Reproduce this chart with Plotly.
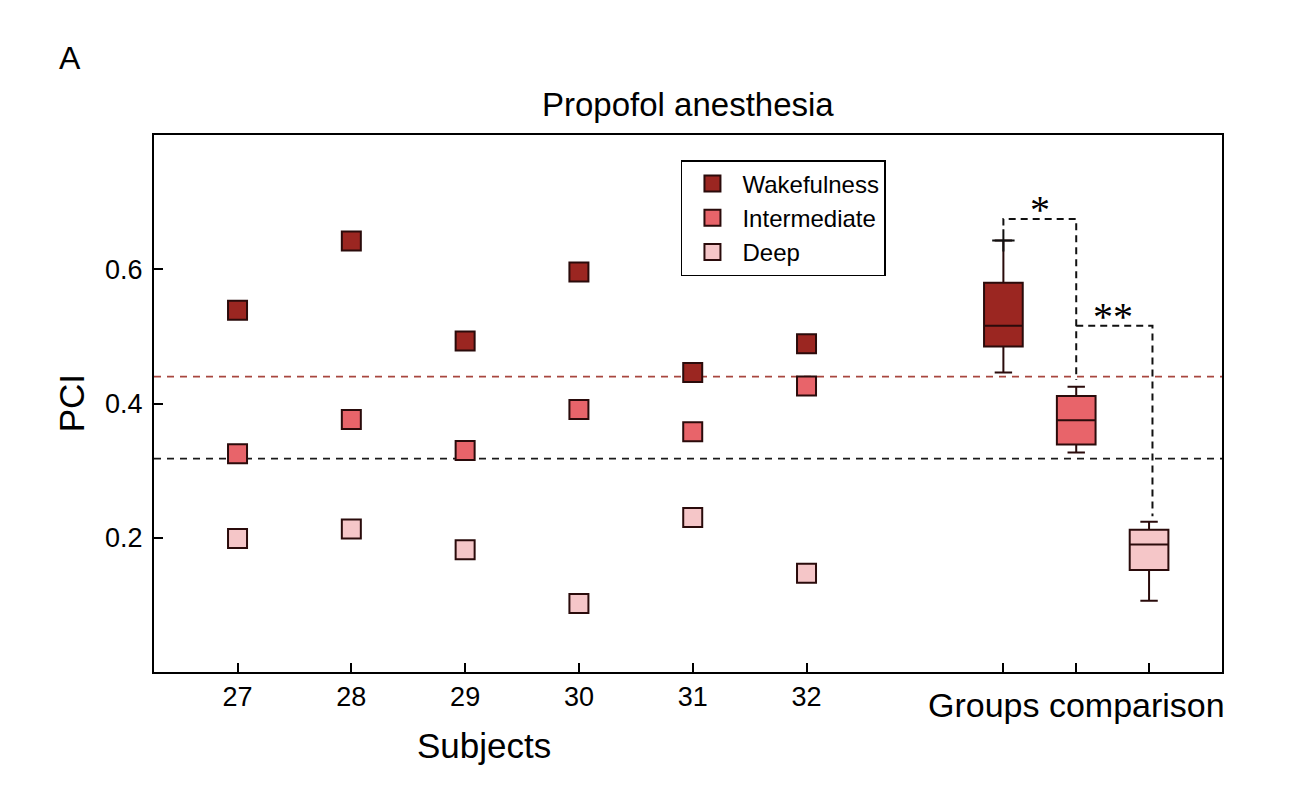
import plotly.graph_objects as go

# ---------------- data ----------------
subjects = ["27", "28", "29", "30", "31", "32"]
wakefulness = [0.539, 0.642, 0.493, 0.596, 0.446, 0.489]
intermediate = [0.325, 0.376, 0.330, 0.391, 0.358, 0.426]
deep = [0.199, 0.213, 0.182, 0.102, 0.230, 0.147]

group_names = ["Wakefulness", "Intermediate", "Deep"]
box_lower = [0.446, 0.327, 0.106]
box_q1 = [0.485, 0.339, 0.152]
box_median = [0.516, 0.375, 0.190]
box_q3 = [0.580, 0.411, 0.212]
box_upper = [0.643, 0.425, 0.224]

threshold_wake = 0.44
threshold_black = 0.318

sig_labels = ["*", "**"]
y_ticks = [0.2, 0.4, 0.6]

# ---------------- layout constants ----------------
subj_pos = [1, 2, 3, 4, 5, 6]
group_pos = [7.73, 8.37, 9.01]
colors = ["#9b2621", "#e8646a", "#f5c6c8"]
edge = "#2a0b0b"
FONT = "Liberation Sans, Arial, Helvetica, sans-serif"
SERIF = "Liberation Serif, Times New Roman, serif"

fig = go.Figure()

# reference dashed lines
fig.add_hline(y=threshold_wake, line=dict(color="#a8463f", width=1.8, dash="7px,6px"), layer="below")
fig.add_hline(y=threshold_black, line=dict(color="#1a1a1a", width=1.8, dash="7px,6px"), layer="below")

# subject scatter
for name, vals, col in zip(group_names, [wakefulness, intermediate, deep], colors):
    fig.add_trace(go.Scatter(
        x=subj_pos, y=vals, mode="markers", name=name,
        marker=dict(symbol="square", size=19, color=col, line=dict(color=edge, width=2)),
    ))

# group boxes
for i, col in enumerate(colors):
    fig.add_trace(go.Box(
        x=[group_pos[i]], q1=[box_q1[i]], median=[box_median[i]], q3=[box_q3[i]],
        lowerfence=[box_lower[i]], upperfence=[box_upper[i]],
        width=0.34, whiskerwidth=0.45, fillcolor=col,
        line=dict(color=edge, width=2), boxpoints=False, showlegend=False,
        hoverinfo="skip",
    ))

# outlier-like cross at top of wakefulness whisker
fig.add_trace(go.Scatter(
    x=[group_pos[0]], y=[box_upper[0]], mode="markers", showlegend=False, hoverinfo="skip",
    marker=dict(symbol="cross-thin", size=16, line=dict(color="#111111", width=2))))

# significance brackets
dash_style = dict(color="#111111", width=2, dash="7px,5px")
b1_top = 0.675
b2_top = box_median[0]
fig.add_trace(go.Scatter(
    x=[group_pos[0], group_pos[0], group_pos[1], group_pos[1]],
    y=[box_upper[0] + 0.022, b1_top, b1_top, box_upper[1] + 0.010],
    mode="lines", line=dash_style, showlegend=False, hoverinfo="skip"))
fig.add_trace(go.Scatter(
    x=[group_pos[1], group_pos[2] + 0.03, group_pos[2] + 0.03],
    y=[b2_top, b2_top, box_upper[2] + 0.008],
    mode="lines", line=dash_style, showlegend=False, hoverinfo="skip"))

fig.add_annotation(x=(group_pos[0] + group_pos[1]) / 2, y=b1_top, text=sig_labels[0],
                   showarrow=False, yanchor="middle", yshift=9,
                   font=dict(family=SERIF, size=40, color="black"))
fig.add_annotation(x=(group_pos[1] + group_pos[2]) / 2, y=b2_top, text=sig_labels[1],
                   showarrow=False, yanchor="middle", yshift=9,
                   font=dict(family=SERIF, size=40, color="black"))

# texts
fig.add_annotation(x=group_pos[1], y=-0.062, xref="x", yref="paper", text="Groups comparison",
                   showarrow=False, yanchor="middle", xanchor="center",
                   font=dict(family=FONT, size=34, color="black"))
fig.add_annotation(x=3.17, y=-0.137, xref="x", yref="paper", text="Subjects",
                   showarrow=False, yanchor="middle", xanchor="center",
                   font=dict(family=FONT, size=35, color="black"))
fig.add_annotation(x=-0.0787, y=1.143, xref="paper", yref="paper", text="A",
                   showarrow=False, yanchor="middle", xanchor="center",
                   font=dict(family=FONT, size=32, color="black"))
fig.add_annotation(x=-0.077, y=0.5, xref="paper", yref="paper", text="PCI", textangle=-90,
                   showarrow=False, yanchor="middle", xanchor="center",
                   font=dict(family=FONT, size=35, color="black"))
fig.add_annotation(x=0.5, y=1.056, xref="paper", yref="paper", text="Propofol anesthesia",
                   showarrow=False, yanchor="middle", xanchor="center",
                   font=dict(family=FONT, size=33, color="black"))

axis_common = dict(showline=True, linecolor="black", linewidth=2, mirror=True,
                   ticks="inside", ticklen=9, tickwidth=2, tickcolor="black",
                   showgrid=False, zeroline=False,
                   tickfont=dict(family=FONT, size=27, color="black"))

fig.update_layout(
    width=1281, height=801,
    margin=dict(l=146, r=67, t=127, b=137),
    paper_bgcolor="white", plot_bgcolor="white",
    xaxis=dict(range=[0.266, 9.651], tickmode="array",
               tickvals=subj_pos + group_pos,
               ticktext=subjects + ["", "", ""], **axis_common),
    yaxis=dict(range=[0, 0.8], tickmode="array", tickvals=y_ticks,
               ticktext=[f"{v:.1f}" for v in y_ticks], ticklabelstandoff=4, **axis_common),
    legend=dict(x=0.4934, y=0.9534, xanchor="left", yanchor="top",
                bordercolor="black", borderwidth=1.5, bgcolor="white",
                font=dict(family=FONT, size=24, color="black"),
                itemsizing="trace", itemwidth=50, tracegroupgap=0),
    showlegend=True,
)

fig.write_html("out.html")
